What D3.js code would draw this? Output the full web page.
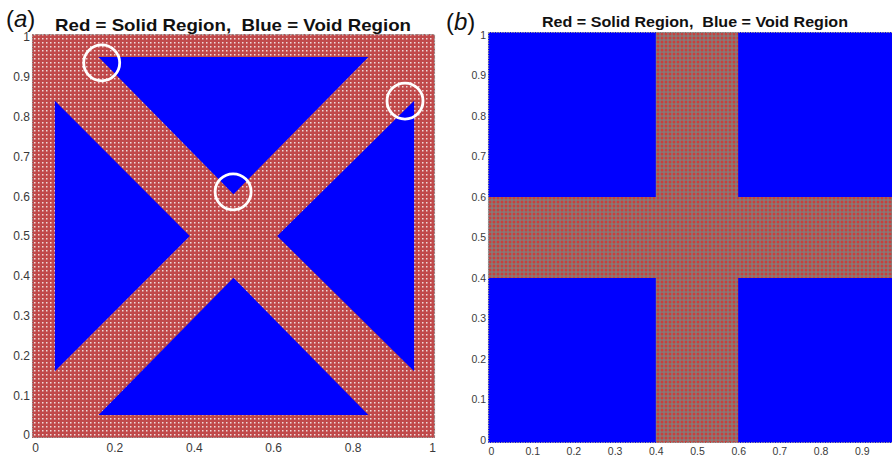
<!DOCTYPE html>
<html>
<head>
<meta charset="utf-8">
<script src="https://cdn.jsdelivr.net/npm/d3@7"></script>
<style>
  body { margin: 0; background: #fff; }
  svg { display: block; font-family: "Liberation Sans", Arial, sans-serif; }
  .tick text { fill: #3a3a3a; }
</style>
</head>
<body>
<svg id="chart" width="892" height="464"></svg>
<script>
'use strict';

/* Data */

var title = 'Red = Solid Region,  Blue = Void Region'

// panel (a): blue void triangles, vertices in data units
var voidTop = [[0.16, 0.95], [0.84, 0.95], [0.5, 0.605]]
var voidLeft = [[0.05, 0.84], [0.05, 0.16], [0.39, 0.5]]
var voidRight = [[0.955, 0.84], [0.955, 0.16], [0.61, 0.5]]
var voidBottom = [[0.16, 0.05], [0.84, 0.05], [0.5, 0.395]]

// white circles marking the defects
var markX = [0.168, 0.499, 0.932]
var markY = [0.935, 0.611, 0.839]

var ticksAX = [0, 0.2, 0.4, 0.6, 0.8, 1]
var ticksAY = [0, 0.1, 0.2, 0.3, 0.4, 0.5, 0.6, 0.7, 0.8, 0.9, 1]

// panel (b): blue void rectangles [x0, x1, y0, y1]
var voidB = [[0, 0.4, 0.6, 1], [0.6, 1, 0.6, 1], [0, 0.4, 0, 0.4], [0.6, 1, 0, 0.4]]
// the "1" label falls outside the cropped figure
var ticksBX = [0, 0.1, 0.2, 0.3, 0.4, 0.5, 0.6, 0.7, 0.8, 0.9]
var ticksBY = [0, 0.1, 0.2, 0.3, 0.4, 0.5, 0.6, 0.7, 0.8, 0.9, 1]

var svg = d3.select('#chart')
var defs = svg.append('defs')

// marker texture: red mesh with light dots
var patA = defs.append('pattern')
  .attr('id', 'solidA').attr('patternUnits', 'userSpaceOnUse')
  .attr('width', 4).attr('height', 4)
patA.append('rect').attr('width', 4).attr('height', 4).attr('fill', '#c0494a')
patA.append('rect').attr('x', 2).attr('y', 2).attr('width', 1.5).attr('height', 1.5).attr('fill', '#eedcdb')

var patB = defs.append('pattern')
  .attr('id', 'solidB').attr('patternUnits', 'userSpaceOnUse')
  .attr('width', 4).attr('height', 4)
patB.append('rect').attr('width', 4).attr('height', 4).attr('fill', '#877a78')
patB.append('circle').attr('cx', 2).attr('cy', 2).attr('r', 1.5).attr('fill', '#c8403d')

function panel(opts) {
  var x = d3.scaleLinear().domain([0, 1]).range(opts.xr)
  var y = d3.scaleLinear().domain([0, 1]).range(opts.yr)
  var pad = 3
  var g = svg.append('g')

  var clipId = 'clip' + opts.id
  defs.append('clipPath').attr('id', clipId)
    .append('rect')
    .attr('x', x(0) - pad).attr('y', y(1) - pad)
    .attr('width', x(1) - x(0) + 2 * pad).attr('height', y(0) - y(1) + 2 * pad)

  var plot = g.append('g').attr('clip-path', 'url(#' + clipId + ')')
  plot.append('rect')
    .attr('x', x(0) - pad).attr('y', y(1) - pad)
    .attr('width', x(1) - x(0) + 2 * pad).attr('height', y(0) - y(1) + 2 * pad)
    .attr('fill', 'url(#' + opts.pattern + ')')

  // frame of boundary markers
  g.append('rect')
    .attr('x', x(0) - pad + 0.5).attr('y', y(1) - pad + 0.5)
    .attr('width', x(1) - x(0) + 2 * pad - 1).attr('height', y(0) - y(1) + 2 * pad - 1)
    .attr('fill', 'none').attr('stroke', '#9a9a9a').attr('stroke-width', 1.2)
    .attr('stroke-dasharray', '1.5,1')

  opts.draw(plot, x, y)

  var xAxis = d3.axisBottom(x).tickValues(opts.tx).tickSize(0).tickPadding(opts.xpad)
    .tickFormat(d3.format('~g'))
  var yAxis = d3.axisLeft(y).tickValues(opts.ty).tickSize(0).tickPadding(2)
    .tickFormat(d3.format('~g'))

  g.append('g').attr('transform', 'translate(0,' + (y(0) + pad) + ')').call(xAxis)
    .call(function(s){ s.select('.domain').remove() })
    .selectAll('text').attr('font-size', opts.fs).attr('font-family', 'Liberation Sans, Arial, sans-serif')
  g.append('g').attr('transform', 'translate(' + (x(0) - pad) + ',0)').call(yAxis)
    .call(function(s){ s.select('.domain').remove() })
    .selectAll('text').attr('font-size', opts.fs).attr('font-family', 'Liberation Sans, Arial, sans-serif')

  g.append('text')
    .attr('x', opts.titleX).attr('y', opts.titleY)
    .attr('text-anchor', 'middle')
    .attr('font-weight', 'bold').attr('font-size', opts.titleFs)
    .attr('textLength', opts.titleW).attr('lengthAdjust', 'spacingAndGlyphs')
    .attr('fill', '#111')
    .style('white-space', 'pre')
    .text(title)

  var lab = g.append('text')
    .attr('x', opts.labX).attr('y', opts.labY)
    .attr('font-size', 24).attr('fill', '#111')
  lab.append('tspan').text('(')
  lab.append('tspan').attr('font-style', 'italic').text(opts.letter)
  lab.append('tspan').text(')')
}

panel({
  id: 'a', pattern: 'solidA',
  xr: [35, 432], yr: [435, 37],
  tx: ticksAX, ty: ticksAY, fs: 12, xpad: 5,
  titleX: 233, titleY: 31, titleFs: 17, titleW: 356,
  labX: 6, labY: 27, letter: 'a',
  draw: function(plot, x, y) {
    var line = d3.line().x(function(d){ return x(d[0]) }).y(function(d){ return y(d[1]) })
    plot.selectAll('path.void')
      .data([voidTop, voidLeft, voidRight, voidBottom])
      .enter().append('path')
        .attr('class', 'void')
        .attr('d', function(d){ return line(d) + 'Z' })
        .attr('fill', '#0000ff')
    plot.selectAll('circle.mark')
      .data(markX)
      .enter().append('circle')
        .attr('class', 'mark')
        .attr('cx', function(d){ return x(d) })
        .attr('cy', function(d, i){ return y(markY[i]) })
        .attr('r', 18)
        .attr('fill', 'none').attr('stroke', '#fff').attr('stroke-width', 2.8)
  }
})

panel({
  id: 'b', pattern: 'solidB',
  xr: [491, 903], yr: [440, 35],
  tx: ticksBX, ty: ticksBY, fs: 10.5, xpad: 5,
  titleX: 695, titleY: 27, titleFs: 14.5, titleW: 306,
  labX: 446, labY: 30, letter: 'b',
  draw: function(plot, x, y) {
    var pad = 3
    plot.selectAll('rect.void')
      .data(voidB)
      .enter().append('rect')
        .attr('class', 'void')
        .attr('x', function(d){ return d[0] === 0 ? x(0) - pad : x(d[0]) })
        .attr('width', function(d){ return x(d[1]) - x(d[0]) + (d[0] === 0 || d[1] === 1 ? pad : 0) })
        .attr('y', function(d){ return d[3] === 1 ? y(1) - pad : y(d[3]) })
        .attr('height', function(d){ return y(d[2]) - y(d[3]) + (d[2] === 0 || d[3] === 1 ? pad : 0) })
        .attr('fill', '#0000ff')
  }
})
</script>
</body>
</html>
